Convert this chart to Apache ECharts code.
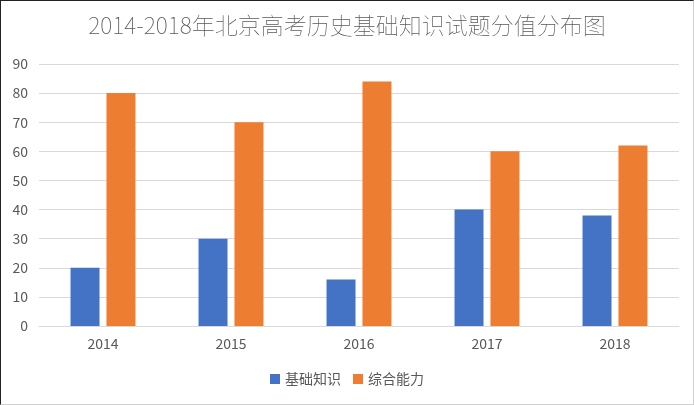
<!DOCTYPE html>
<html>
<head>
<meta charset="utf-8">
<script src="https://cdn.jsdelivr.net/npm/echarts@6/dist/echarts.min.js"></script>
<style>
  html, body { margin: 0; padding: 0; background: #fff; }
  #main {
    width: 694px; height: 405px; box-sizing: border-box;
    border-top: 1px solid #222; border-left: 1px solid #222;
    border-right: 1px solid #d0d0d0; border-bottom: 1px solid #d0d0d0;
  }
</style>
</head>
<body>
<div id="main"></div>
<script>
const TITLE = '2014-2018年北京高考历史基础知识试题分值分布图';
const years = ['2014', '2015', '2016', '2017', '2018'];
const basic = [20, 30, 16, 40, 38];      // 基础知识
const ability = [80, 70, 84, 60, 62];    // 综合能力
const FONT = '"Noto Sans CJK SC", "Noto Sans", sans-serif';

const chart = echarts.init(document.getElementById('main'), null, { renderer: 'canvas' });

const option = {
  animation: false,
  textStyle: { fontFamily: FONT },
  title: {
    text: TITLE,
    left: 'center',
    top: 8,
    textStyle: { fontSize: 23, fontWeight: 'lighter', color: '#595959', fontFamily: FONT }
  },
  legend: {
    bottom: 13,
    left: 'center',
    itemWidth: 10,
    itemHeight: 10,
    itemGap: 12,
    icon: 'rect',
    textStyle: { fontSize: 14, color: '#595959', fontFamily: FONT },
    data: ['基础知识', '综合能力']
  },
  grid: { left: 38, right: 14, top: 63, bottom: 78 },
  xAxis: {
    type: 'category',
    data: years,
    axisTick: { show: false },
    axisLine: { lineStyle: { color: '#d9d9d9' } },
    axisLabel: { color: '#595959', fontSize: 14, margin: 11 }
  },
  yAxis: {
    type: 'value',
    min: 0,
    max: 90,
    interval: 10,
    axisLine: { show: false },
    axisTick: { show: false },
    axisLabel: { color: '#595959', fontSize: 14, margin: 11 },
    splitLine: { lineStyle: { color: '#d9d9d9' } }
  },
  series: [
    {
      name: '基础知识',
      type: 'bar',
      data: basic,
      barWidth: 29,
      barGap: '24%',
      itemStyle: { color: '#4472C4' }
    },
    {
      name: '综合能力',
      type: 'bar',
      data: ability,
      barWidth: 29,
      itemStyle: { color: '#ED7D31' }
    }
  ]
};

chart.setOption(option);
</script>
</body>
</html>
